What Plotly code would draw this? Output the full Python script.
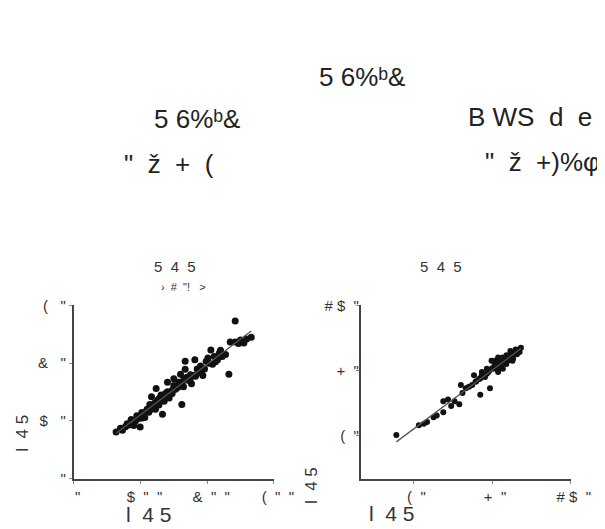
import numpy as np
import plotly.graph_objects as go

# ---------------- data ----------------
left_x = [127, 146, 160, 180, 199, 189, 204, 218, 228, 243, 238, 252, 247, 262, 266, 271, 281, 296,
          300, 315, 324, 320, 329, 334, 339, 353, 358, 363, 373, 383, 387, 397, 411, 416, 421, 431,
          436, 445, 465, 469, 484, 494, 484, 532, 518, 334, 233, 213, 286, 402, 300, 349, 281,
          140, 155, 165, 172, 185, 195, 205, 210, 220, 225, 232, 240, 245, 250, 255, 258, 265, 270,
          275, 285, 290, 295, 305, 310, 318, 325, 330, 345, 350, 365, 370, 380, 392, 405, 425, 440,
          455, 500, 510]
left_y = [16.2, 16.8, 19.0, 18.4, 17.9, 21.8, 22.9, 23.4, 25.7, 26.2, 24.6, 27.3, 31.2, 29.0, 22.3,
          26.8, 30.1, 30.7, 32.3, 33.4, 25.7, 36.2, 31.8, 37.9, 35.1, 32.9, 35.7, 41.2, 36.8, 37.3,
          35.7, 40.7, 44.6, 39.6, 42.3, 41.2, 43.4, 42.3, 36.2, 47.3, 47.3, 46.8, 54.6, 49.0, 48.4,
          40.7, 28.4, 21.2, 27.9, 41.8, 34.6, 34.6, 33.4,
          17.5, 18.0, 18.6, 20.5, 20.0, 20.8, 21.0, 22.3, 24.0, 23.0, 24.0, 25.5, 24.0, 26.0, 25.5,
          28.0, 27.0, 28.5, 29.5, 29.0, 30.0, 29.5, 31.0, 31.5, 32.0, 33.0, 34.5, 34.0, 36.0, 35.5,
          38.0, 39.0, 38.0, 40.0, 40.5, 44.5, 43.0, 48.0, 47.0]

right_x = [53.5, 62.1, 64.0, 65.2, 67.7, 68.9, 71.4, 71.4, 73.2, 75.7, 77.5, 74.4, 78.7, 78.1, 80.0,
           81.2, 82.4, 83.1, 85.5, 83.7, 85.5, 87.3, 89.2, 88.6, 90.4, 91.7, 91.0, 92.9, 93.5, 94.7,
           95.4, 96.6, 97.2, 98.4, 99.0, 99.7, 97.8, 96.0, 94.1, 92.3, 88.0, 86.1, 92.3, 89.8, 100.3,
           90, 91, 92, 93, 94, 95, 96, 97, 98, 99, 100, 101, 95.5, 94, 97, 93, 92, 89, 88, 87, 86,
           98, 99.5, 100.5, 84, 85]
right_y = [60.2, 64.7, 65.4, 66.2, 68.4, 69.2, 70.7, 75.8, 76.6, 75.8, 74.4, 73.6, 79.6, 83.3, 81.8,
           82.5, 83.3, 87.8, 78.8, 84.8, 86.3, 87.0, 81.8, 89.2, 90.8, 91.5, 94.5, 93.7, 92.2, 95.2,
           93.0, 95.9, 97.5, 98.2, 99.7, 98.9, 94.5, 94.5, 90.8, 89.2, 90.8, 89.2, 95.9, 94.5, 99.7,
           91, 92.5, 92, 93.5, 94, 94.2, 96, 96.5, 97, 98, 99, 100.5, 97, 96, 99, 91, 90.5, 90, 88.5,
           88, 87.5, 95.5, 97.5, 98.5, 85, 86]

S = "\u00a0"
left_xticks = [0, 200, 400, 600]
left_xticktext = ['"', f'${S*2}"{S*2}"', f'&{S*2}"{S*2}"', f'({S*2}"{S*2}"']
left_yticks = [0, 20, 40, 60]
left_yticktext = ['"', f'${S*3}"', f'&{S*3}"', f'({S*3}"']
right_ticks = [60, 90, 120]
right_ticktext = [f'({S*2}"', f'+{S*2}"', f'#{S}${S*2}"']

title_main = "5 6%ᵇ&"
left_head1 = "5 6%ᵇ&"
left_head2 = f'"{S*2}ž{S*2}+{S*2}('
right_head1 = f"B{S}WS{S*2}d{S*2}e"
right_head2 = f'"{S*2}ž{S*2}+)%φ'
sub_title = f"5{S*2}4{S*2}5"
sub_note = f'›{S*2}#{S*2}"!{S*3}>'
axis_title = f"l{S*2}4{S}5"

FONT = "Liberation Sans, Arial, sans-serif"
W, H = 605, 529

fig = go.Figure()

def fit_line(xs, ys):
    b, a = np.polyfit(xs, ys, 1)
    x0, x1 = min(xs), max(xs)
    return [x0, x1], [a + b * x0, a + b * x1]

# left panel
fig.add_trace(go.Scatter(x=left_x, y=left_y, mode="markers", xaxis="x", yaxis="y",
                         marker=dict(color="#111", size=7), showlegend=False))
lx, ly = fit_line(left_x, left_y)
fig.add_trace(go.Scatter(x=lx, y=ly, mode="lines", xaxis="x", yaxis="y",
                         line=dict(color="#555", width=1.3), showlegend=False))
# right panel
fig.add_trace(go.Scatter(x=right_x, y=right_y, mode="markers", xaxis="x2", yaxis="y2",
                         marker=dict(color="#111", size=6), showlegend=False))
rx, ry = fit_line(right_x, right_y)
fig.add_trace(go.Scatter(x=rx, y=ry, mode="lines", xaxis="x2", yaxis="y2",
                         line=dict(color="#555", width=1.3), showlegend=False))

def px(x):
    return x / W

def py(y):
    return 1 - y / H

ydom = [py(477), py(298)]
axis_common = dict(showline=True, linecolor="#444", linewidth=2, showgrid=False, zeroline=False,
                   ticks="outside", ticklen=3, tickcolor="#888",
                   tickfont=dict(family=FONT, size=15, color="#333"))

fig.update_layout(
    width=W, height=H,
    margin=dict(l=0, r=0, t=0, b=0),
    paper_bgcolor="white", plot_bgcolor="white",
    xaxis=dict(domain=[px(68), px(275)], range=[0, 600], tickvals=left_xticks,
               ticktext=left_xticktext, anchor="y", ticklabelshift=4, **axis_common),
    yaxis=dict(domain=ydom, range=[0, 60], tickvals=left_yticks,
               ticktext=left_yticktext, anchor="x", **axis_common),
    xaxis2=dict(domain=[px(365), px(582)], range=[40, 120], tickvals=right_ticks,
                ticktext=right_ticktext, anchor="y2", ticklabelshift=3, **axis_common),
    yaxis2=dict(domain=ydom, range=[40, 120], tickvals=right_ticks,
                ticktext=right_ticktext, anchor="x2", ticklabelstandoff=-6, **axis_common),
)

def ann(text, x, y, size, xanchor="center", angle=0, color="#222"):
    fig.add_annotation(text=text, x=px(x), y=py(y), xref="paper", yref="paper",
                       xanchor=xanchor, yanchor="middle", showarrow=False, textangle=angle,
                       font=dict(family=FONT, size=size, color=color))

ann(title_main, 366, 62, 26)
ann(left_head1, 195, 105, 26)
ann(left_head2, 167, 152, 26)
ann(right_head1, 474, 103, 26, xanchor="left")
ann(right_head2, 491, 150, 26, xanchor="left")

ann(sub_title, 173, 258, 15, color="#333")
ann(sub_note, 181, 279, 11, color="#333")
ann(sub_title, 448, 258, 15, color="#333")

ann(axis_title, 146, 514, 21, color="#333")
ann(axis_title, 397, 513, 21, color="#333")
ann(axis_title, 15, 430, 17, angle=-90, color="#333")
ann(axis_title, 314, 484, 17, angle=-90, color="#333")

fig.write_html("out.html")
